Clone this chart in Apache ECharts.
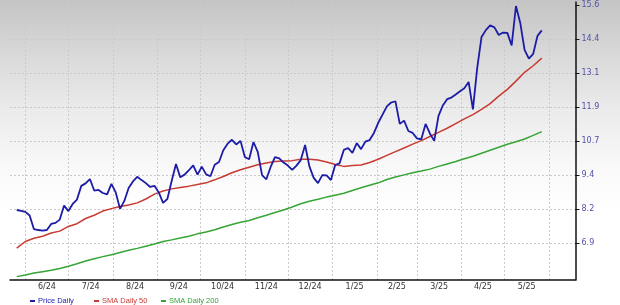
<!DOCTYPE html>
<html><head><meta charset="utf-8">
<script src="https://cdn.jsdelivr.net/npm/echarts@6/dist/echarts.min.js"></script>
<style>html,body{margin:0;padding:0;background:#fff}#c{width:620px;height:305px}</style>
</head><body><div id="c"></div>
<script>
// ---- data ----
const ORIGIN = '2024-06-01';
const PRICE_START = '2024-05-26';
const PRICE_STEP_DAYS = 3;
const PRICE = [8.15,8.12,8.08,7.95,7.45,7.42,7.40,7.42,7.64,7.68,7.80,8.31,8.11,8.37,8.53,9.03,9.12,9.28,8.86,8.88,
  8.77,8.72,9.10,8.79,8.19,8.48,8.95,9.19,9.36,9.24,9.13,8.99,9.03,8.79,8.41,8.55,9.21,9.83,9.34,9.44,
  9.60,9.78,9.44,9.73,9.45,9.38,9.80,9.90,10.33,10.57,10.71,10.54,10.67,10.08,10.00,10.63,10.27,9.42,9.27,9.72,
  10.08,10.03,9.88,9.77,9.61,9.77,9.97,10.52,9.74,9.32,9.13,9.42,9.41,9.24,9.79,9.85,10.34,10.41,10.23,10.59,
  10.37,10.64,10.70,10.96,11.33,11.63,11.93,12.07,12.11,11.29,11.41,11.03,10.96,10.76,10.73,11.29,10.94,10.67,11.58,11.96,
  12.19,12.25,12.36,12.48,12.59,12.82,11.82,13.33,14.46,14.71,14.88,14.81,14.53,14.62,14.61,14.15,15.59,14.97,13.99,13.67,
  13.84,14.50,14.70];
const SMA_START = '2024-05-26';
const SMA_STEP_DAYS = 6;
const SMA50 = [6.76,7.00,7.12,7.19,7.31,7.38,7.55,7.65,7.84,7.96,8.11,8.20,8.28,8.33,8.41,8.55,8.73,8.84,8.92,8.97,
  9.02,9.08,9.14,9.25,9.37,9.51,9.62,9.71,9.80,9.86,9.92,9.94,9.95,10.00,10.00,9.97,9.90,9.81,9.74,9.77,
  9.79,9.88,10.00,10.14,10.28,10.41,10.55,10.68,10.83,10.98,11.13,11.30,11.47,11.63,11.82,12.03,12.30,12.55,12.85,13.17,
  13.41,13.69];
const SMA200 = [5.72,5.78,5.85,5.90,5.95,6.02,6.10,6.19,6.29,6.37,6.45,6.52,6.60,6.68,6.75,6.83,6.91,7.00,7.06,7.13,
  7.19,7.28,7.35,7.43,7.53,7.62,7.70,7.77,7.87,7.96,8.06,8.15,8.26,8.38,8.47,8.54,8.62,8.69,8.76,8.86,
  8.96,9.05,9.14,9.26,9.35,9.43,9.51,9.57,9.64,9.74,9.83,9.92,10.02,10.11,10.22,10.33,10.44,10.55,10.64,10.74,
  10.87,11.01];
const MONTH_STARTS = ['2024-06-01','2024-07-01','2024-08-01','2024-09-01','2024-10-01','2024-11-01','2024-12-01',
  '2025-01-01','2025-02-01','2025-03-01','2025-04-01','2025-05-01','2025-06-01'];
const MONTH_LABELS = ['6/24','7/24','8/24','9/24','10/24','11/24','12/24','1/25','2/25','3/25','4/25','5/25'];
const Y_TICKS = [6.935,8.175,9.415,10.655,11.895,13.135,14.375,15.615];
const SERIES_NAMES = ['Price Daily','SMA Daily 50','SMA Daily 200'];
const COLORS = ['#1c1ca6','#c83a32','#36a436'];

// ---- helpers ----
const DAY = 86400000;
const o = Date.parse(ORIGIN + 'T00:00:00Z');
const dayOf = s => (Date.parse(s + 'T00:00:00Z') - o) / DAY;
const build = (start, step, arr) => arr.map((v, i) => [dayOf(start) + i * step, v]);
const monthDays = MONTH_STARTS.map(dayOf);
const midDays = MONTH_LABELS.map((_, i) => (monthDays[i] + monthDays[i + 1]) / 2);
const labelMap = {};
midDays.forEach((d, i) => { labelMap[d] = MONTH_LABELS[i]; });

const chart = echarts.init(document.getElementById('c'), null, {renderer: 'canvas'});
const legendBase = (i, left) => ({
  show: true, left: left, top: 292, data: [SERIES_NAMES[i]], icon: 'rect', itemWidth: 5, itemHeight: 2,
  itemGap: 0, selectedMode: false,
  textStyle: {fontFamily: 'Liberation Sans, Arial, sans-serif', fontSize: 7.5, color: COLORS[i], padding: [0, 0, 0, -2]}
});
chart.setOption({
  animation: false,
  backgroundColor: {type: 'linear', x: 0, y: 0, x2: 0, y2: 1, colorStops: [
    {offset: 0, color: '#c4c4c4'}, {offset: 0.18, color: '#d9d9d9'}, {offset: 0.36, color: '#ebebeb'},
    {offset: 0.55, color: '#f9f9f9'}, {offset: 0.7, color: '#ffffff'}, {offset: 1, color: '#ffffff'}]},
  grid: {left: 10, right: 44.5, top: 2, bottom: 25, containLabel: false},
  legend: [legendBase(0, 25), legendBase(1, 89), legendBase(2, 156)],
  xAxis: {
    type: 'value', min: -10.7, max: 383.5,
    axisLine: {show: true, onZero: false, lineStyle: {color: '#111', width: 1.5}},
    axisTick: {show: false, customValues: monthDays},
    splitLine: {show: true, lineStyle: {color: '#cacaca', type: [2, 2], width: 1}},
    axisLabel: {customValues: midDays, formatter: v => labelMap[v] || '', color: '#333', fontSize: 8,
      fontFamily: 'DejaVu Sans, Verdana, sans-serif', margin: 3}
  },
  yAxis: {
    type: 'value', position: 'right', min: 5.597, max: 15.735, scale: true,
    axisLine: {show: true, onZero: false, lineStyle: {color: '#111', width: 1.5}},
    axisTick: {show: true, customValues: Y_TICKS, length: 4, lineStyle: {color: '#111'}},
    splitLine: {show: true, lineStyle: {color: '#cacaca', type: [2, 2], width: 1}},
    axisLabel: {customValues: Y_TICKS, formatter: v => Number(v).toFixed(1), color: '#5252a8', fontSize: 8,
      fontFamily: 'DejaVu Sans, Verdana, sans-serif', margin: 6}
  },
  series: [
    {name: SERIES_NAMES[0], type: 'line', data: build(PRICE_START, PRICE_STEP_DAYS, PRICE), showSymbol: false,
      lineStyle: {color: COLORS[0], width: 1.8}, itemStyle: {color: COLORS[0]}, z: 5},
    {name: SERIES_NAMES[1], type: 'line', data: build(SMA_START, SMA_STEP_DAYS, SMA50), showSymbol: false,
      lineStyle: {color: COLORS[1], width: 1.5}, itemStyle: {color: COLORS[1]}, z: 4},
    {name: SERIES_NAMES[2], type: 'line', data: build(SMA_START, SMA_STEP_DAYS, SMA200), showSymbol: false,
      lineStyle: {color: COLORS[2], width: 1.5}, itemStyle: {color: COLORS[2]}, z: 3}
  ]
});
</script></body></html>
